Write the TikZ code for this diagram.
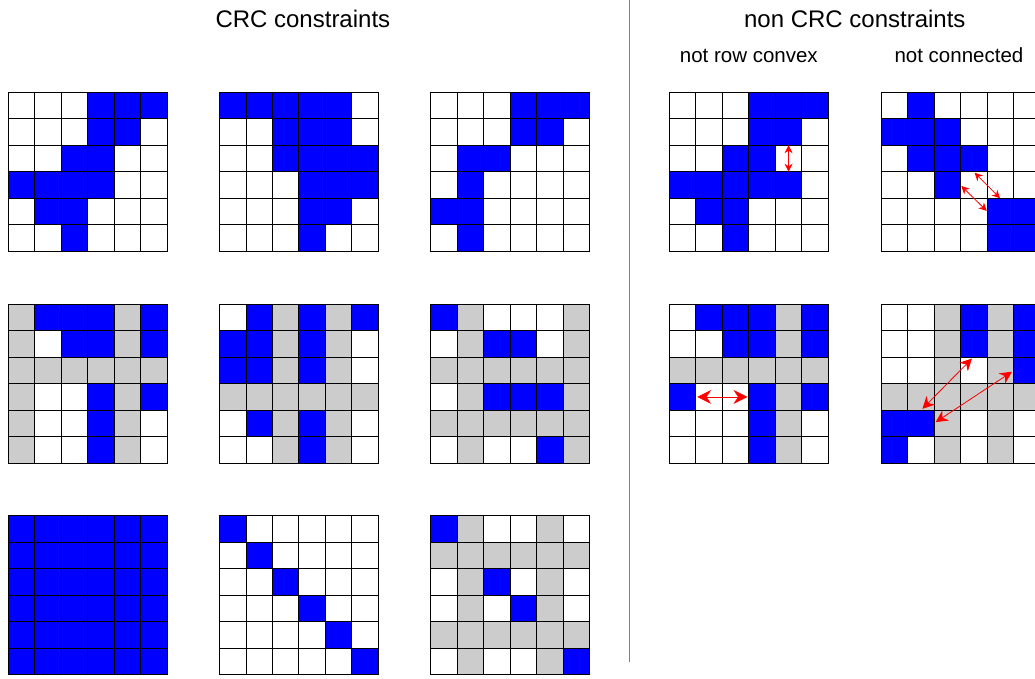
\documentclass[tikz,border=0pt]{standalone}
\usepackage{fontspec}
\setmainfont{Liberation Sans}
\usetikzlibrary{arrows.meta}
\definecolor{cellgray}{RGB}{204,204,204}

% one 6x6 constraint matrix, #1,#2 = top left corner, #3 = rows of W/B/G
\newcommand{\cellgrid}[3]{%
  \begin{scope}[shift={(#1,#2)}]
    \foreach \row [count=\r from 0] in {#3} {
      \foreach \c [count=\k from 0] in \row {
        \path[cell\c] (\k,\r) rectangle ++(1,1);
      }
    }
  \end{scope}}

\begin{document}
\begin{tikzpicture}[x=26.5pt, y=-26.5pt,
    cellW/.style={draw=black, line width=0.8pt, fill=white},
    cellB/.style={draw=black, line width=0.8pt, fill=blue},
    cellG/.style={draw=black, line width=0.8pt, fill=cellgray},
    paneltitle/.style={anchor=base, font=\fontsize{24}{28}\selectfont},
    casetitle/.style={anchor=base, font=\fontsize{20.5}{24}\selectfont},
    viol/.style={red, line width=0.8pt, {Stealth[length=#1, width=#1]}-{Stealth[length=#1, width=#1]}},
    viol/.default=8pt]

    \clip (0,0) rectangle (39.06,25.62);

    % 1. Headings and the separating line
    \node[paneltitle] (crc) at (11.43,1.04) {CRC constraints};
    \node[paneltitle] (noncrc) at (32.26,1.04) {non CRC constraints};
    \node[casetitle] (rowconv) at (28.26,2.34) {not row convex};
    \node[casetitle] (conn) at (36.19,2.34) {not connected};
    \draw[gray, line width=0.8pt] (23.77,0) -- (23.77,24.98);

    % 2. CRC matrices, first row
    \cellgrid{0.30}{3.48}{{W,W,W,B,B,B},{W,W,W,B,B,W},{W,W,B,B,W,W},{B,B,B,B,W,W},{W,B,B,W,W,W},{W,W,B,W,W,W}}
    \cellgrid{8.28}{3.48}{{B,B,B,B,B,W},{W,W,B,B,B,W},{W,W,B,B,B,B},{W,W,W,B,B,B},{W,W,W,B,B,W},{W,W,W,B,W,W}}
    \cellgrid{16.25}{3.48}{{W,W,W,B,B,B},{W,W,W,B,B,W},{W,B,B,W,W,W},{W,B,W,W,W,W},{B,B,W,W,W,W},{W,B,W,W,W,W}}

    % 3. CRC matrices, second row (removed values in gray)
    \cellgrid{0.30}{11.48}{{G,B,B,B,G,B},{G,W,B,B,G,B},{G,G,G,G,G,G},{G,W,W,B,G,B},{G,W,W,B,G,W},{G,W,W,B,G,W}}
    \cellgrid{8.28}{11.48}{{W,B,G,B,G,B},{B,B,G,B,G,W},{B,B,G,B,G,W},{G,G,G,G,G,G},{W,B,G,B,G,W},{W,W,G,B,G,W}}
    \cellgrid{16.25}{11.48}{{B,G,W,W,W,G},{W,G,B,B,W,G},{G,G,G,G,G,G},{W,G,B,B,B,G},{G,G,G,G,G,G},{W,G,W,W,B,G}}

    % 4. CRC matrices, third row
    \cellgrid{0.30}{19.46}{{B,B,B,B,B,B},{B,B,B,B,B,B},{B,B,B,B,B,B},{B,B,B,B,B,B},{B,B,B,B,B,B},{B,B,B,B,B,B}}
    \cellgrid{8.28}{19.46}{{B,W,W,W,W,W},{W,B,W,W,W,W},{W,W,B,W,W,W},{W,W,W,B,W,W},{W,W,W,W,B,W},{W,W,W,W,W,B}}
    \cellgrid{16.25}{19.46}{{B,G,W,W,G,W},{G,G,G,G,G,G},{W,G,B,W,G,W},{W,G,W,B,G,W},{G,G,G,G,G,G},{W,G,W,W,G,B}}

    % 5. non CRC matrices
    \cellgrid{25.26}{3.48}{{W,W,W,B,B,B},{W,W,W,B,B,W},{W,W,B,B,W,W},{B,B,B,B,B,W},{W,B,B,W,W,W},{W,W,B,W,W,W}}
    \cellgrid{33.26}{3.48}{{W,B,W,W,W,W},{B,B,B,W,W,W},{W,B,B,B,W,W},{W,W,B,W,W,W},{W,W,W,W,B,B},{W,W,W,W,B,B}}
    \cellgrid{25.26}{11.48}{{W,B,B,B,G,B},{W,W,B,B,G,B},{G,G,G,G,G,G},{B,W,W,B,G,B},{W,W,W,B,G,W},{W,W,W,B,G,W}}
    \cellgrid{33.26}{11.48}{{W,W,G,B,G,B},{W,W,G,B,G,B},{W,W,G,W,G,B},{G,G,G,G,G,G},{B,B,G,W,G,W},{B,W,G,W,G,W}}

    % 6. Gaps that break the property
    \begin{scope}[shift={(25.26,3.48)}]
        \coordinate (rcTop) at (4.5,2);
        \coordinate (rcBot) at (4.5,3);
    \end{scope}
    \begin{scope}[shift={(33.26,3.48)}]
        \coordinate (ncA) at (3.52,3.04);
        \coordinate (ncB) at (4.48,4.0);
        \coordinate (ncC) at (3.02,3.54);
        \coordinate (ncD) at (3.98,4.48);
    \end{scope}
    \begin{scope}[shift={(25.26,11.48)}]
        \coordinate (rcLeft) at (1.05,3.5);
        \coordinate (rcRight) at (2.95,3.5);
    \end{scope}
    \begin{scope}[shift={(33.26,11.48)}]
        \coordinate (ncE) at (1.55,3.95);
        \coordinate (ncF) at (3.42,2.05);
        \coordinate (ncG) at (2.05,4.45);
        \coordinate (ncH) at (4.93,2.55);
    \end{scope}

    \draw[viol] (rcTop) -- (rcBot);
    \draw[viol] (ncA) -- (ncB);
    \draw[viol] (ncC) -- (ncD);
    \draw[viol=14pt] (rcLeft) -- (rcRight);
    \draw[viol=12pt] (ncE) -- (ncF);
    \draw[viol=12pt] (ncG) -- (ncH);

\end{tikzpicture}
\end{document}
